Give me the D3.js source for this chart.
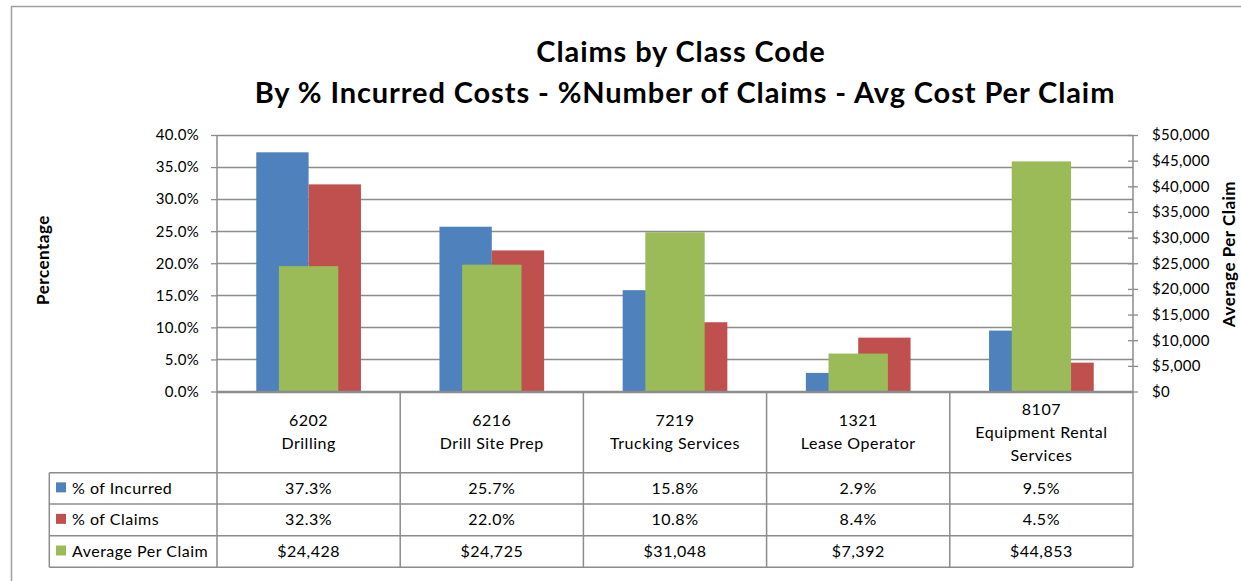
<!DOCTYPE html>
<html>
<head>
<meta charset="utf-8">
<script src="https://cdn.jsdelivr.net/npm/d3@7"></script>
<style>
  body { margin: 0; background: #fff; }
  svg { display: block; font-family: Lato, "Open Sans", sans-serif; }
</style>
</head>
<body>
<div id="chart-container"></div>
<script>
// chart values
const codes = ['6202', '6216', '7219', '1321', '8107'];
const classNames = [['Drilling'], ['Drill Site Prep'], ['Trucking Services'], ['Lease Operator'], ['Equipment Rental', 'Services']];
const pctIncurred = [0.373, 0.257, 0.158, 0.029, 0.095];
const pctClaims = [0.323, 0.220, 0.108, 0.084, 0.045];
const avgPerClaim = [24428, 24725, 31048, 7392, 44853];
const seriesNames = ['% of Incurred', '% of Claims', 'Average Per Claim'];
const leftTicks = [0, 0.05, 0.10, 0.15, 0.20, 0.25, 0.30, 0.35, 0.40];
const rightTicks = [0, 5000, 10000, 15000, 20000, 25000, 30000, 35000, 40000, 45000, 50000];

const colors = ['#4f81bd', '#c0504d', '#9bbb59'];
const lineColor = '#8c8c8c';

const W = 1241, H = 581;
const plot = { left: 217, right: 1133, top: 135, bottom: 391.5 };
const tableRows = [472.7, 504, 535.7, 567.3];  // row bottoms
const tableLeft = 49.3;

const svg = d3.select('#chart-container')
  .append('svg')
  .attr('width', W)
  .attr('height', H);

svg.append('rect').attr('width', W).attr('height', H).attr('fill', '#fff');

// outer chart frame (runs off the right and bottom of the picture)
svg.append('rect')
  .attr('x', 11.5).attr('y', 6.5)
  .attr('width', W + 20).attr('height', H + 20)
  .attr('fill', 'none')
  .attr('stroke', '#a0a0a0')
  .attr('stroke-width', 1.5);

// title
const title = svg.append('text')
  .attr('text-anchor', 'middle')
  .style('font-weight', 'bold')
  .style('font-size', '29px')
  .style('letter-spacing', '0.9px');
title.append('tspan').attr('x', 681).attr('y', 62).text('Claims by Class Code');
title.append('tspan').attr('x', 685).attr('y', 103).text('By % Incurred Costs - %Number of Claims - Avg Cost Per Claim');

// scales
const x = d3.scaleBand()
  .domain(codes)
  .range([plot.left, plot.right])
  .padding(0);

const xSub = d3.scaleBand()
  .domain([0, 1])
  .range([0, x.bandwidth()])
  .paddingInner(0)
  .paddingOuter(0.75);

const greenW = x.bandwidth() * 0.324;

const y = d3.scaleLinear().domain([0, 0.4]).range([plot.bottom, plot.top]);
const y2 = d3.scaleLinear().domain([0, 50000]).range([plot.bottom, plot.top]);

// gridlines
svg.append('g')
  .selectAll('line')
  .data(leftTicks)
  .join('line')
  .attr('x1', plot.left).attr('x2', plot.right)
  .attr('y1', d => Math.round(y(d)) + 0.5).attr('y2', d => Math.round(y(d)) + 0.5)
  .attr('stroke', lineColor)
  .attr('stroke-width', 1.3);

// left axis
const leftAxis = svg.append('g')
  .attr('transform', 'translate(' + plot.left + ',0)')
  .call(d3.axisLeft(y).tickValues(leftTicks).tickFormat(d3.format('.1%')).tickSize(6).tickPadding(12));
leftAxis.select('.domain').remove();
leftAxis.selectAll('line').attr('stroke', lineColor).attr('stroke-width', 1.3);
leftAxis.selectAll('text').style('font-size', '15px').style('letter-spacing', '0.3px').style('font-family', 'Lato, sans-serif').attr('fill', '#000');

// right axis
const rightAxis = svg.append('g')
  .attr('transform', 'translate(' + plot.right + ',0)')
  .call(d3.axisRight(y2).tickValues(rightTicks).tickFormat(d => '$' + d3.format(',')(d)).tickSize(5).tickPadding(14));
rightAxis.select('.domain').remove();
rightAxis.selectAll('line').attr('x1', -5).attr('stroke', lineColor).attr('stroke-width', 1.3);
rightAxis.selectAll('text').style('font-size', '15px').style('letter-spacing', '0.3px').style('font-family', 'Lato, sans-serif').attr('fill', '#000');

// bars: primary axis
const groups = svg.append('g')
  .selectAll('g')
  .data(codes)
  .join('g')
  .attr('transform', d => 'translate(' + x(d) + ',0)');

[pctIncurred, pctClaims].forEach(function (vals, s) {
  groups.append('rect')
    .attr('x', (d, i) => xSub(s))
    .attr('width', xSub.bandwidth())
    .attr('y', (d, i) => y(vals[i]))
    .attr('height', (d, i) => y(0) - y(vals[i]))
    .attr('fill', colors[s]);
});

// bars: secondary axis, drawn over
groups.append('rect')
  .attr('x', (x.bandwidth() - greenW) / 2)
  .attr('width', greenW)
  .attr('y', (d, i) => y2(avgPerClaim[i]))
  .attr('height', (d, i) => y2(0) - y2(avgPerClaim[i]))
  .attr('fill', colors[2]);

// axis titles
svg.append('text')
  .attr('transform', 'translate(49,260) rotate(-90)')
  .attr('text-anchor', 'middle')
  .style('font-weight', 'bold')
  .style('font-size', '17px')
  .style('letter-spacing', '0.5px')
  .text('Percentage');

svg.append('text')
  .attr('transform', 'translate(1235,254) rotate(-90)')
  .attr('text-anchor', 'middle')
  .style('font-weight', 'bold')
  .style('font-size', '17px')
  .style('letter-spacing', '0.5px')
  .text('Average Per Claim');

// data table
const tbl = svg.append('g').attr('stroke', lineColor).attr('stroke-width', 1.5);
tbl.selectAll('line.h')
  .data(tableRows)
  .join('line')
  .attr('class', 'h')
  .attr('x1', tableLeft).attr('x2', plot.right)
  .attr('y1', d => d).attr('y2', d => d);
tbl.selectAll('line.v')
  .data(codes.map(c => x(c)).concat([plot.right]))
  .join('line')
  .attr('class', 'v')
  .attr('x1', d => d).attr('x2', d => d)
  .attr('y1', (d, i) => (i === 0 || i === codes.length) ? plot.top : plot.bottom)
  .attr('y2', tableRows[3]);
tbl.append('line')
  .attr('x1', tableLeft).attr('x2', tableLeft)
  .attr('y1', tableRows[0]).attr('y2', tableRows[3]);
// x axis line
svg.append('line')
  .attr('x1', plot.left).attr('x2', plot.right)
  .attr('y1', plot.bottom).attr('y2', plot.bottom)
  .attr('stroke', lineColor).attr('stroke-width', 1.5);

// category labels
const catMid = (plot.bottom + tableRows[0]) / 2;
codes.forEach(function (c, i) {
  const lines = [c].concat(classNames[i]);
  const t = svg.append('text')
    .attr('text-anchor', 'middle')
    .style('font-size', '16px')
    .style('letter-spacing', '0.5px');
  lines.forEach(function (l, j) {
    t.append('tspan')
      .attr('x', x(c) + x.bandwidth() / 2)
      .attr('y', catMid - (lines.length - 1) * 23 / 2 + j * 23 + 5.5)
      .text(l);
  });
});

// table rows
const rowVals = [
  pctIncurred.map(d3.format('.1%')),
  pctClaims.map(d3.format('.1%')),
  avgPerClaim.map(d => '$' + d3.format(',')(d))
];
const rowTops = [tableRows[0], tableRows[1], tableRows[2]];
rowVals.forEach(function (vals, r) {
  const mid = (rowTops[r] + tableRows[r + 1]) / 2;
  svg.append('rect')
    .attr('x', 56).attr('y', mid - 6)
    .attr('width', 10).attr('height', 10)
    .attr('fill', colors[r]);
  svg.append('text')
    .attr('x', 72).attr('y', mid + 5.5)
    .style('font-size', '16px')
    .style('letter-spacing', '0.5px')
    .text(seriesNames[r]);
  vals.forEach(function (v, i) {
    svg.append('text')
      .attr('x', x(codes[i]) + x.bandwidth() / 2)
      .attr('y', mid + 5.5)
      .attr('text-anchor', 'middle')
      .style('font-size', '16px')
      .style('letter-spacing', '0.5px')
      .text(v);
  });
});
</script>
</body>
</html>
